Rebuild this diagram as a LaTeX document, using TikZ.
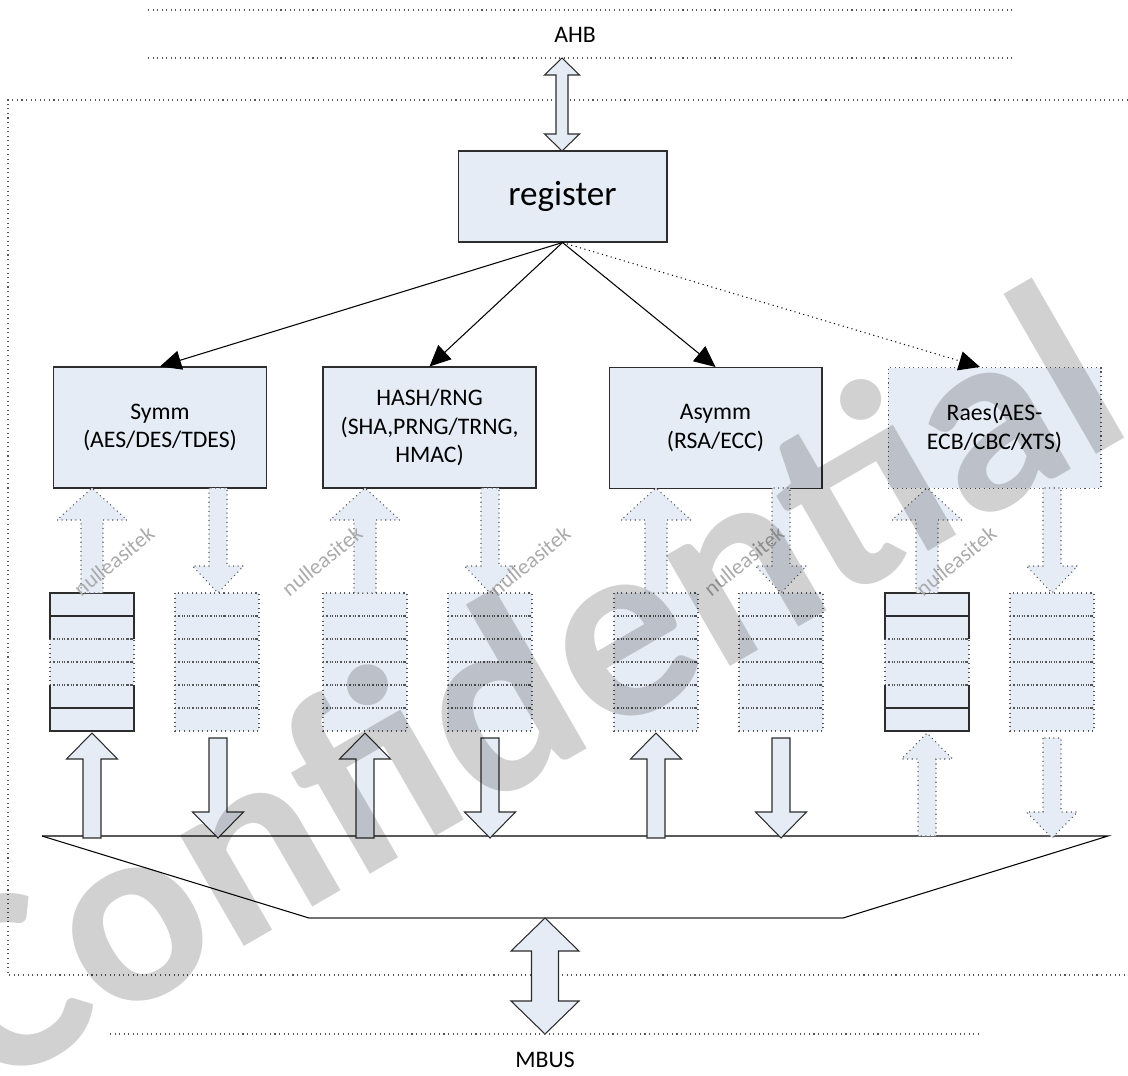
\documentclass[tikz,border=0pt]{standalone}
\usepackage{fontspec}
\setmainfont{Carlito}
\usepackage{tikz}
\usetikzlibrary{arrows.meta}

\definecolor{boxfill}{RGB}{230,236,246}
\definecolor{edge}{RGB}{45,45,45}
\definecolor{dotline}{RGB}{85,85,85}

\tikzset{
  module/.style={draw=edge,fill=boxfill,line width=0.6pt,minimum width=4.26cm,
    minimum height=2.42cm,align=center,inner sep=0pt,
    font=\fontsize{13.5}{16.2}\selectfont},
  dotbox/.style={draw=dotline,dotted,line width=0.6pt},
  solidblk/.style={draw=edge,fill=boxfill,line width=0.6pt},
  dotblk/.style={draw=dotline,fill=boxfill,dotted,line width=0.6pt},
  busline/.style={draw=dotline,dotted,line width=0.6pt},
  feed/.style={-{Triangle[length=12pt,width=11pt]},line width=0.6pt},
  stamp/.style={text=black!33,font=\fontsize{12.5}{12.5}\selectfont,rotate=39},
}

% block arrow: style, x, tip, head base, tail, half shaft, half head
\newcommand{\blockarr}[7]{%
  \draw[#1] ({#2-#6},#5) -- ({#2-#6},#4) -- ({#2-#7},#4) -- (#2,#3)
    -- ({#2+#7},#4) -- ({#2+#6},#4) -- ({#2+#6},#5) -- cycle;}

% double block arrow: style, x, top tip, bottom tip, head length, half shaft, half head
\newcommand{\dblarr}[7]{%
  \draw[#1] (#2,#3) -- ({#2+#7},{#3+#5}) -- ({#2+#6},{#3+#5}) -- ({#2+#6},{#4-#5})
    -- ({#2+#7},{#4-#5}) -- (#2,#4) -- ({#2-#7},{#4-#5}) -- ({#2-#6},{#4-#5})
    -- ({#2-#6},{#3+#5}) -- ({#2-#7},{#3+#5}) -- cycle;}

% fifo of six rows: left, top
\newcommand{\fifostack}[2]{%
  \fill[boxfill] (#1,#2) rectangle ({#1+84},{#2+138});
  \foreach \row in {0,...,5}
    \draw[dotbox] (#1,{#2+23*\row}) rectangle ({#1+84},{#2+23*\row+23});}

% solid edges of the input fifos
\newcommand{\fifoframe}[2]{%
  \draw[edge,line width=0.6pt] (#1,{#2+46}) -- (#1,#2) -- ({#1+84},#2) -- ({#1+84},{#2+46})
    (#1,{#2+23}) -- ({#1+84},{#2+23})
    (#1,{#2+92}) -- (#1,{#2+138}) -- ({#1+84},{#2+138}) -- ({#1+84},{#2+92})
    (#1,{#2+115}) -- ({#1+84},{#2+115});}

\begin{document}
\begin{tikzpicture}[x=0.02cm,y=-0.02cm]
\useasboundingbox (0,0) rectangle (1128,1075);
\clip (0,0) rectangle (1128,1075);

% AHB
\draw[busline] (148,10) -- (1013,10);
\draw[busline] (148,58) -- (1013,58);
\node[font=\fontsize{13.5}{16}\selectfont] (ahb) at (575,35) {AHB};

% outer frame
\draw[busline] (1128,100) -- (8,100) -- (8,975) -- (1128,975);

\node[module,minimum width=4.18cm,minimum height=1.82cm,
  font=\fontsize{20}{24}\selectfont] (reg) at (562.5,196.5) {register};
\dblarr{solidblk}{562}{58}{151}{17}{6}{17.5}

\node[module] (symm) at (160,427.5) {Symm\\(AES/DES/TDES)};
\node[module] (hash) at (429.5,427.5) {HASH/RNG\\(SHA,PRNG/TRNG,\\HMAC)};
\node[module] (asymm) at (715.5,428) {Asymm\\(RSA/ECC)};
\node[module,dotbox,fill=boxfill] (raes) at (994.5,428) {Raes(AES-\\ECB/CBC/XTS)};

\draw[feed] (reg.south) -- (symm.north);
\draw[feed] (reg.south) -- (hash.north);
\draw[feed] (reg.south) -- (asymm.north);
\draw[feed,dotted] (reg.south) -- ([xshift=-0.29cm]raes.north);

% fifos
\fifostack{50}{593}
\fifoframe{50}{593}
\fifostack{175}{593}
\fifostack{323}{593}
\fifostack{448}{593}
\fifostack{614}{593}
\fifostack{739}{593}
\fifostack{885}{593}
\fifoframe{885}{593}
\fifostack{1010}{593}

% module <-> fifo
\blockarr{dotblk}{92}{488}{520}{593}{11}{35}
\blockarr{dotblk}{218}{593}{566}{488}{9}{25.5}
\blockarr{dotblk}{365}{488}{520}{593}{11}{35}
\blockarr{dotblk}{490}{593}{566}{488}{9}{25.5}
\blockarr{dotblk}{656}{488}{520}{593}{11}{35}
\blockarr{dotblk}{781}{593}{566}{488}{9}{25.5}
\blockarr{dotblk}{927}{488}{520}{593}{11}{35}
\blockarr{dotblk}{1052}{593}{566}{488}{9}{25.5}

% mux
\draw[line width=0.6pt] (42,836) -- (1108,836) -- (843,918);
\draw[line width=0.6pt] (42,836) -- (309,918);
\draw[line width=0.6pt,black!55] (309,918) -- (843,918);

% fifo <-> bus
\blockarr{solidblk}{92}{733}{759}{838}{9}{25.5}
\blockarr{solidblk}{218}{838}{812}{738}{9}{25.5}
\blockarr{solidblk}{365}{733}{759}{838}{9}{25.5}
\blockarr{solidblk}{490}{838}{812}{738}{9}{25.5}
\blockarr{solidblk}{656}{733}{759}{838}{9}{25.5}
\blockarr{solidblk}{781}{838}{812}{738}{9}{25.5}
\blockarr{dotblk}{927}{733}{759}{836}{9}{25.5}
\blockarr{dotblk}{1052}{838}{812}{738}{9}{25.5}

% MBUS
\dblarr{solidblk}{545}{918}{1034}{33}{13.5}{34}
\draw[busline] (110,1034) -- (978,1034);
\node[font=\fontsize{13.5}{16}\selectfont] (mbus) at (545,1060) {MBUS};

% watermarks
\foreach \sx in {114,322,530,744,956,1168}
  \node[stamp] (wm\sx) at (\sx,561) {nulleasitek};
\node[rotate=30,anchor=base west,text=black,opacity=0.18,
  font=\fontsize{150}{150}\selectfont\bfseries] (conf) at (-18,1098) {Confidential};

\end{tikzpicture}
\end{document}
